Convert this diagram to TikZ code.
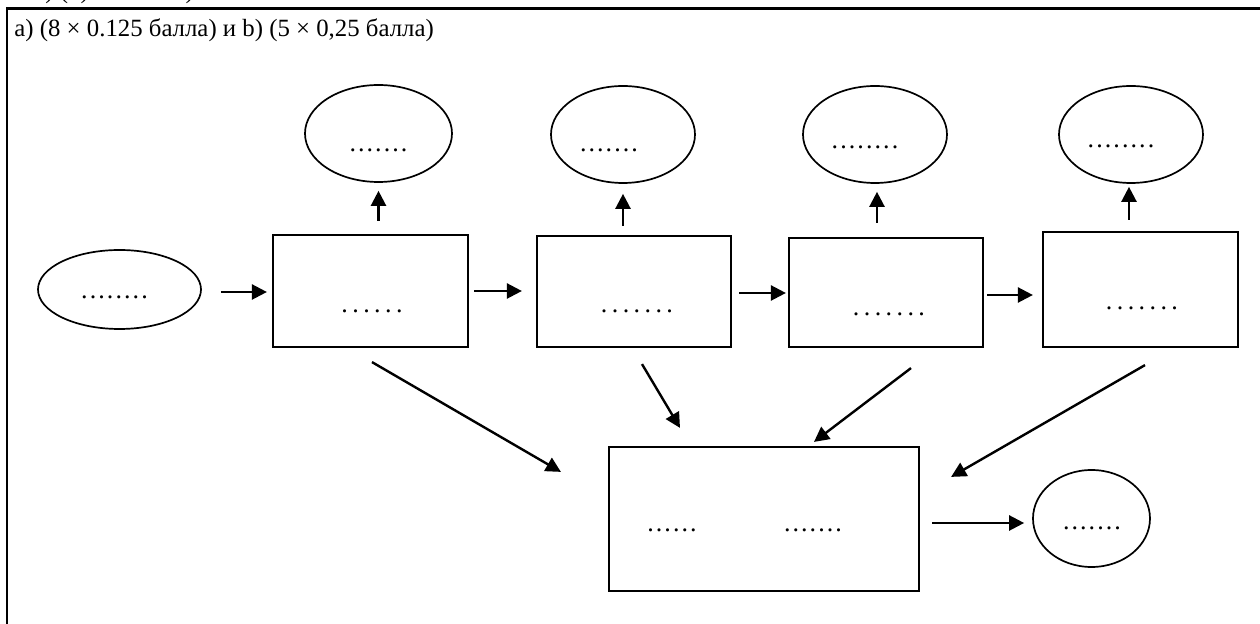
\documentclass[tikz,border=0pt]{standalone}
\usepackage{fontspec}
\setmainfont{Liberation Serif}
\usetikzlibrary{arrows.meta,shapes.geometric,calc}

\begin{document}
\begin{tikzpicture}[x=0.5pt,y=-0.5pt,
  box/.style={draw,line width=1.1pt,rectangle,inner sep=0pt},
  oval/.style={draw,line width=0.85pt,ellipse,inner sep=0pt},
  arr/.style={line width=1.2pt,-{Triangle[length=7.5pt,width=7.5pt]}},
  txt/.style={anchor=base west,inner sep=0pt,font=\fontsize{12.4}{15}\selectfont},
  widedots/.style={anchor=base,inner sep=0pt,font=\fontsize{13}{15}\selectfont\addfontfeatures{LetterSpace=17}},
  tightdots/.style={anchor=base,inner sep=0pt,font=\fontsize{13}{15}\selectfont\addfontfeatures{LetterSpace=8}}]

\useasboundingbox (0,0) rectangle (1260,624);
\fill[white] (0,0) rectangle (1260,624);

% tail of the previous line, cut off by the page edge
\begin{scope}
  \clip (0,0) rectangle (1260,7);
  \node[txt] (prev) at (14,-1) {1.1) (8) 12 балла)};
\end{scope}

% frame
\draw[line width=1.25pt] (7,624) -- (7,8.5) -- (1260,8.5);

% heading
\node[txt] (title) at (14,37) {a) (8 × 0.125 балла) и b) (5 × 0,25 балла)};

% input oval
\node[oval,minimum width=81.5pt,minimum height=39.5pt] (L) at (119.5,289.5) {};

% chain of boxes
\node[box,minimum width=97.5pt,minimum height=56pt]   (B1) at (370.5,291) {};
\node[box,minimum width=97pt,minimum height=55.5pt]   (B2) at (634,291.5) {};
\node[box,minimum width=97pt,minimum height=54.5pt]   (B3) at (886,292.5) {};
\node[box,minimum width=97.5pt,minimum height=57.5pt] (B4) at (1140.5,289.5) {};

% ovals above the boxes
\node[oval,minimum width=73.5pt,minimum height=48.5pt] (E1) at (378.5,133.5) {};
\node[oval,minimum width=72pt,minimum height=48.5pt]   (E2) at (623,134.5) {};
\node[oval,minimum width=72pt,minimum height=48.5pt]   (E3) at (875,134.5) {};
\node[oval,minimum width=72pt,minimum height=48.5pt]   (E4) at (1131,134.5) {};

% collecting box and output oval
\node[box,minimum width=155pt,minimum height=72pt] (BB) at (764,519) {};
\node[oval,minimum width=58.5pt,minimum height=48.5pt] (R) at (1091.5,518.5) {};

% placeholder dots
\node[tightdots] (tL)  at (114.5,299) {........};
\node[widedots]  (t1)  at (372,313) {......};
\node[widedots]  (t2)  at (637,313) {.......};
\node[widedots]  (t3)  at (889,316) {.......};
\node[widedots]  (t4)  at (1142,310) {.......};
\node[tightdots] (te1) at (378.5,152) {.......};
\node[tightdots] (te2) at (609,152) {.......};
\node[tightdots] (te3) at (865,149) {........};
\node[tightdots] (te4) at (1121,148) {........};
\node[tightdots] (tb1) at (672,532) {......};
\node[tightdots] (tb2) at (813,532) {.......};
\node[tightdots] (tR)  at (1092,530) {.......};

% horizontal flow
\draw[arr,shorten <=9.5pt,shorten >=2.5pt] (L.east|-0,292) -- (B1.west|-0,292);
\draw[arr,shorten <=2.5pt,shorten >=7pt]   (B1.east|-0,291) -- (B2.west|-0,291);
\draw[arr,shorten <=3.5pt,shorten >=1pt]   (B2.east|-0,293) -- (B3.west|-0,293);
\draw[arr,shorten <=1.5pt,shorten >=4.5pt] (B3.east|-0,295) -- (B4.west|-0,295);
\draw[arr,shorten <=6pt,shorten >=4pt]     (BB.east|-0,523) -- (R.west|-0,523);

% upward arrows
\draw[arr,shorten <=6.5pt,shorten >=4pt]   (E1.south|-B1.north) -- (E1.south);
\draw[arr,shorten <=4.5pt,shorten >=5pt]   (E2.south|-B2.north) -- (E2.south);
\draw[arr,shorten <=7pt,shorten >=4pt]     ($(E3.south|-B3.north)+(2,0)$) -- ($(E3.south)+(2,0)$);
\draw[arr,shorten <=5.5pt,shorten >=1.5pt] ($(E4.south|-B4.north)+(-2,0)$) -- ($(E4.south)+(-2,0)$);

% arrows into the collecting box
\coordinate (a1) at ($(B1.south)+(1.5,14)$);
\coordinate (a2) at ($(BB.north west)+(-47,26)$);
\coordinate (b1) at ($(B2.south)+(8,16)$);
\coordinate (b2) at ($(BB.north)+(-84,-18)$);
\coordinate (c1) at ($(B3.south)+(25,20)$);
\coordinate (c2) at ($(BB.north)+(50,-4)$);
\coordinate (d1) at ($(B4.south)+(4.5,17)$);
\coordinate (d2) at ($(BB.north east)+(31,31)$);
\draw[arr] (a1) -- (a2);
\draw[arr] (b1) -- (b2);
\draw[arr] (c1) -- (c2);
\draw[arr] (d1) -- (d2);
\end{tikzpicture}
\end{document}
